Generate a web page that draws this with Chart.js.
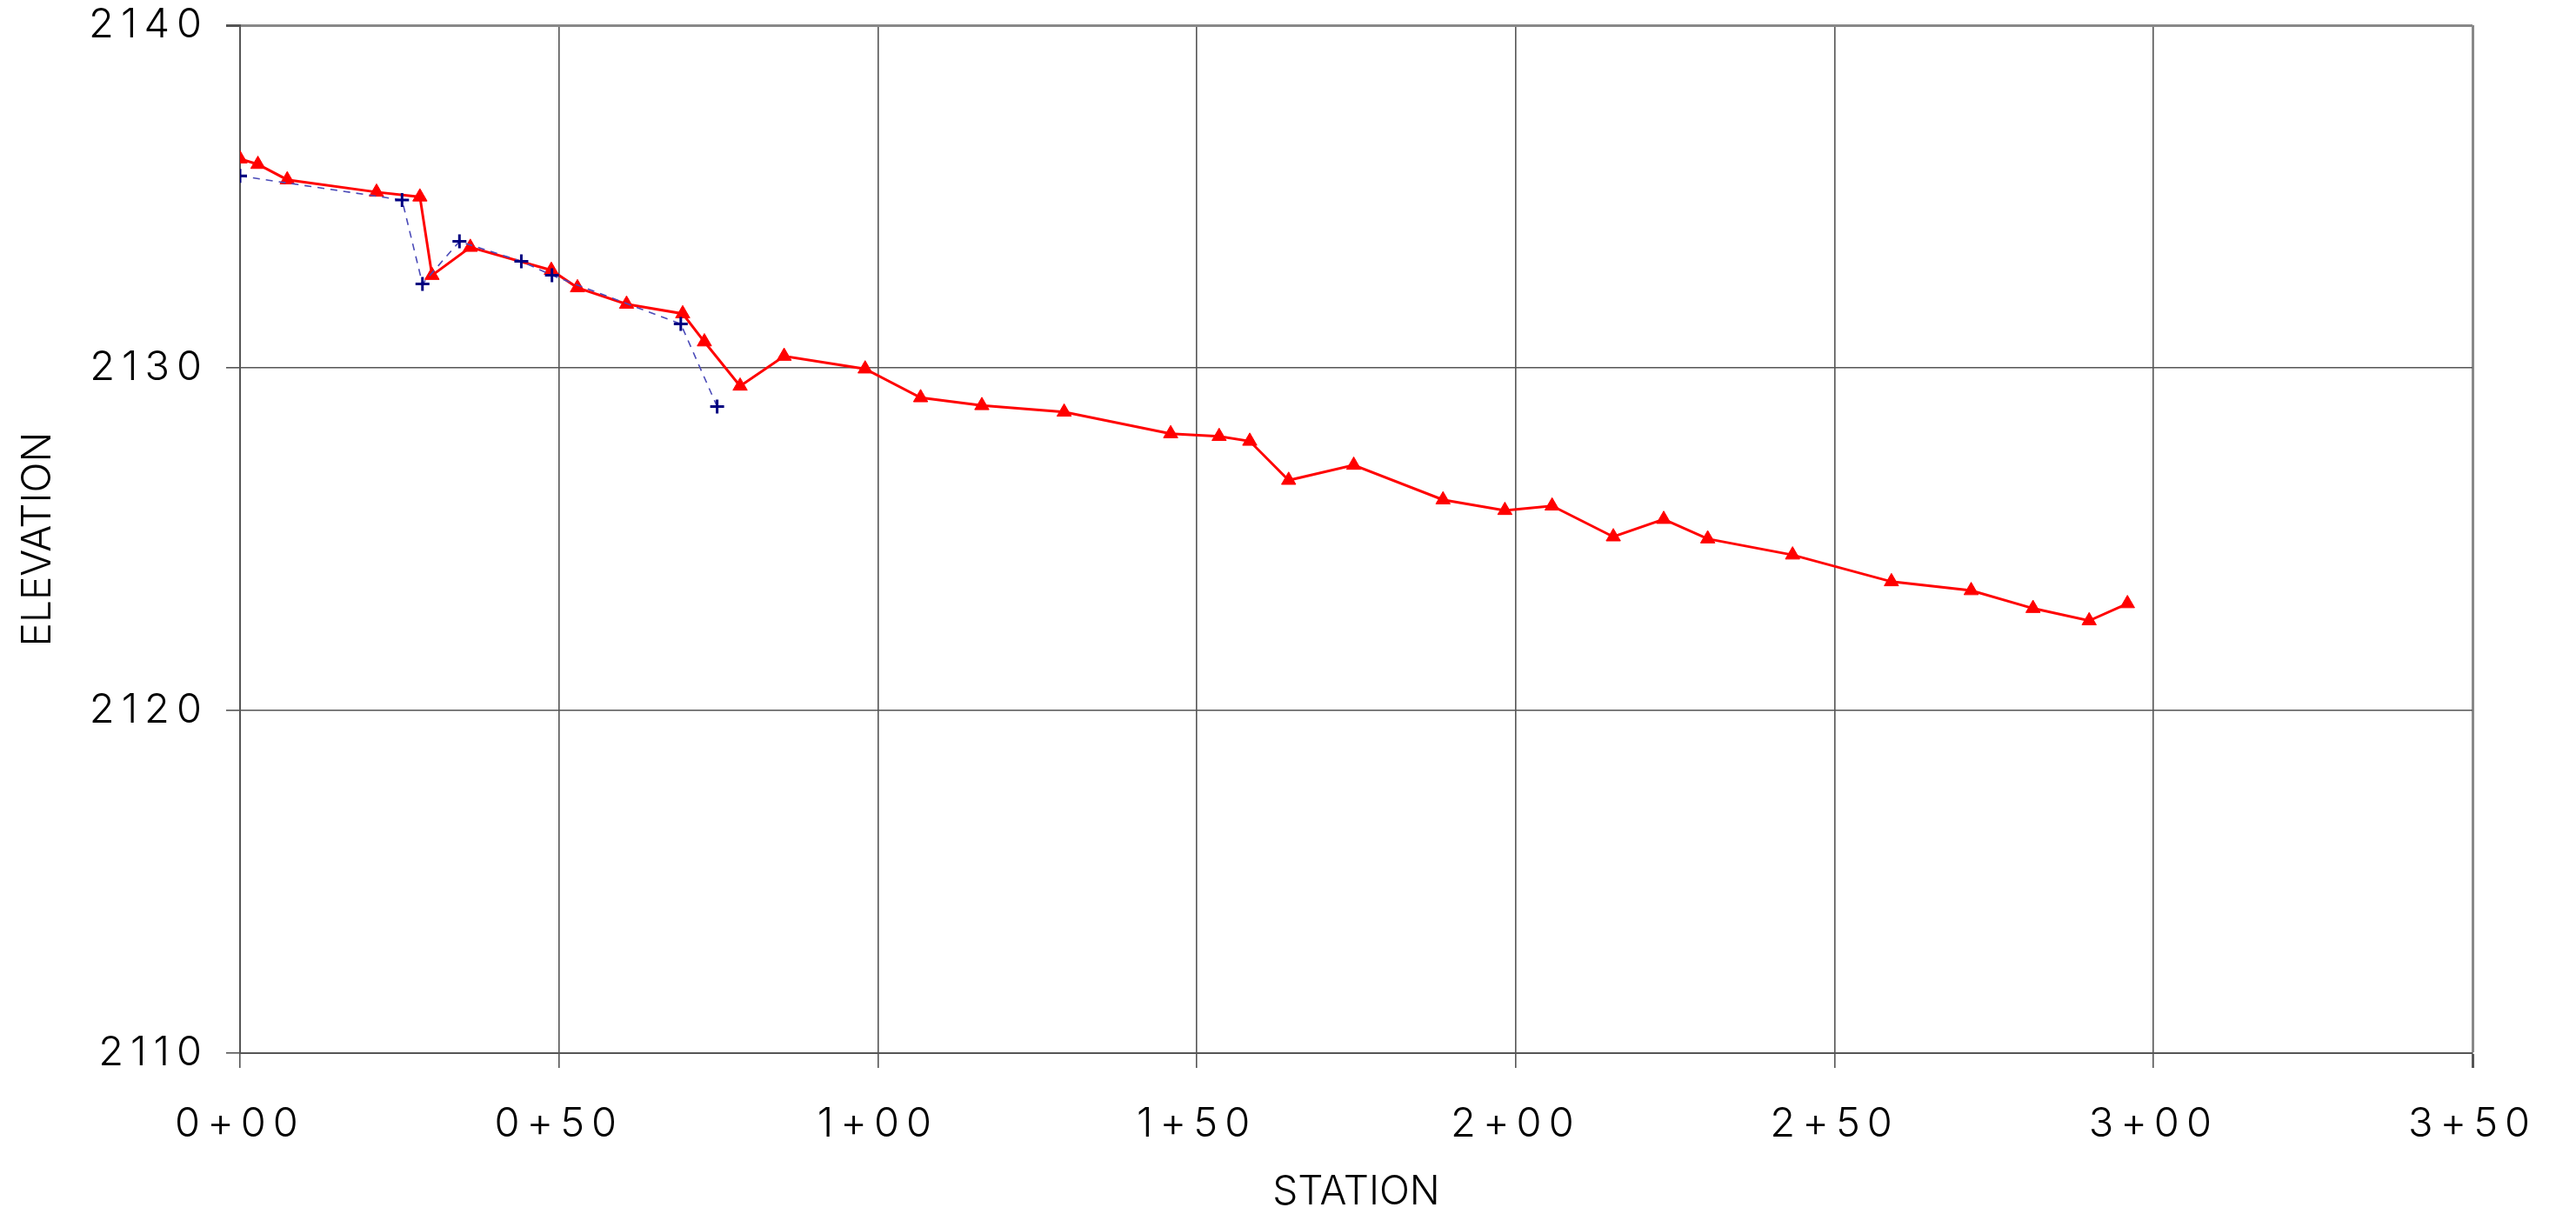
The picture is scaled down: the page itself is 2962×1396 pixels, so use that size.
<!DOCTYPE html>
<html>
<head>
<meta charset="utf-8">
<script src="https://cdn.jsdelivr.net/npm/chart.js@4/dist/chart.umd.min.js"></script>
<style>
  body { margin: 0; background: #fff; }
  #wrap { width: 2962px; height: 1396px; position: relative; }
</style>
</head>
<body>
<div id="wrap"><canvas id="profile"></canvas></div>
<script>
// ground profile (red, triangles)
const groundStation = [0, 2.8, 7.4, 21.4, 28.2, 30.1, 36.1, 48.8, 52.9, 60.6, 69.4, 72.8, 78.4, 85.3,
    98.0, 106.7, 116.3, 129.2, 145.9, 153.5, 158.3, 164.4, 174.6, 188.6, 198.3, 205.7, 215.3, 223.2,
    230.1, 243.4, 258.9, 271.4, 281.1, 289.9, 295.9];
const groundElev = [2136.10, 2135.94, 2135.49, 2135.13, 2134.99, 2132.70, 2133.52, 2132.85, 2132.34,
    2131.86, 2131.58, 2130.76, 2129.47, 2130.34, 2129.97, 2129.13, 2128.90, 2128.71, 2128.08, 2128.00,
    2127.86, 2126.72, 2127.16, 2126.15, 2125.84, 2125.97, 2125.07, 2125.58, 2125.01, 2124.54, 2123.76,
    2123.50, 2122.98, 2122.62, 2123.12];

// second survey (blue, crosses)
const surveyStation = [0, 25.4, 28.6, 34.4, 44.1, 48.9, 69.1, 74.8];
const surveyElev = [2135.60, 2134.90, 2132.45, 2133.69, 2133.11, 2132.70, 2131.28, 2128.87];

const stationTicks = [0, 50, 100, 150, 200, 250, 300, 350];
const stationLabels = ['0+00', '0+50', '1+00', '1+50', '2+00', '2+50', '3+00', '3+50'];
const elevTicks = [2110, 2120, 2130, 2140];

const toPoints = (xs, ys) => xs.map((x, i) => ({x: x, y: ys[i]}));

const fontFamily = 'Inter, "DejaVu Sans", sans-serif';
const tickFont = {family: fontFamily, size: 47, weight: '300'};
const titleFont = {family: fontFamily, size: 46, weight: '300', lineHeight: 1.1};

const edgeColor = (isEdge) => isEdge ? '#888888' : '#555555';

// tick labels in the drawing are widely spaced, titles are not
function spaceLabels(scale) {
    if (scale._spaced) return;
    scale._spaced = true;
    const draw = scale.drawLabels;
    scale.drawLabels = function (area) {
        this.ctx.save();
        this.ctx.letterSpacing = '8px';
        draw.call(this, area);
        this.ctx.restore();
    };
}

new Chart(document.getElementById('profile'), {
    type: 'scatter',
    data: {
        datasets: [
            {
                label: 'survey',
                data: toPoints(surveyStation, surveyElev),
                showLine: true,
                borderColor: '#4a4ab8',
                borderWidth: 1.6,
                borderDash: [8, 7],
                pointStyle: 'cross',
                pointRadius: 8,
                pointBorderWidth: 3,
                pointBorderColor: '#000080',
                pointBackgroundColor: '#000080'
            },
            {
                label: 'ground',
                data: toPoints(groundStation, groundElev),
                showLine: true,
                borderColor: '#ff0000',
                borderWidth: 3,
                pointStyle: 'triangle',
                pointRadius: 9.5,
                pointBorderWidth: 1,
                pointBorderColor: '#ff0000',
                pointBackgroundColor: '#ff0000'
            }
        ]
    },
    options: {
        responsive: true,
        maintainAspectRatio: false,
        animation: false,
        events: [],
        layout: {
            autoPadding: false,
            padding: {left: 0, right: 119, top: 29, bottom: 0}
        },
        plugins: {
            legend: {display: false},
            tooltip: {enabled: false}
        },
        scales: {
            x: {
                type: 'linear',
                min: 0,
                max: 350,
                afterBuildTicks: (scale) => {
                    scale.ticks = stationTicks.map(v => ({value: v}));
                },
                afterFit: (scale) => { scale.height = 185; spaceLabels(scale); },
                ticks: {
                    font: tickFont,
                    color: '#000',
                    padding: 37,
                    maxRotation: 0,
                    autoSkip: false,
                    callback: (v, i) => stationLabels[i]
                },
                grid: {
                    color: (ctx) => edgeColor(ctx.tick && ctx.tick.value === 350),
                    lineWidth: (ctx) => (ctx.tick && ctx.tick.value === 350) ? 3 : 1.6,
                    tickLength: 17,
                    tickColor: '#555555'
                },
                border: {color: '#555555', width: 2},
                title: {
                    display: true,
                    text: 'STATION',
                    font: titleFont,
                    color: '#000',
                    padding: {top: 0, bottom: 0}
                }
            },
            y: {
                type: 'linear',
                min: 2110,
                max: 2140,
                afterBuildTicks: (scale) => {
                    scale.ticks = elevTicks.map(v => ({value: v}));
                },
                afterFit: (scale) => {
                    scale.width = 276;
                    scale.paddingTop = 0;
                    scale.paddingBottom = 0;
                    spaceLabels(scale);
                },
                ticks: {
                    font: tickFont,
                    color: '#000',
                    padding: 20,
                    callback: (v) => String(v)
                },
                grid: {
                    color: (ctx) => edgeColor(ctx.tick && ctx.tick.value === 2140),
                    lineWidth: (ctx) => (ctx.tick && ctx.tick.value === 2140) ? 3 : 1.6,
                    tickLength: 16,
                    tickColor: '#555555'
                },
                border: {color: '#555555', width: 2},
                title: {
                    display: true,
                    text: 'ELEVATION',
                    font: titleFont,
                    color: '#000',
                    padding: {top: 19, bottom: 0}
                }
            }
        }
    }
});
</script>
</body>
</html>
